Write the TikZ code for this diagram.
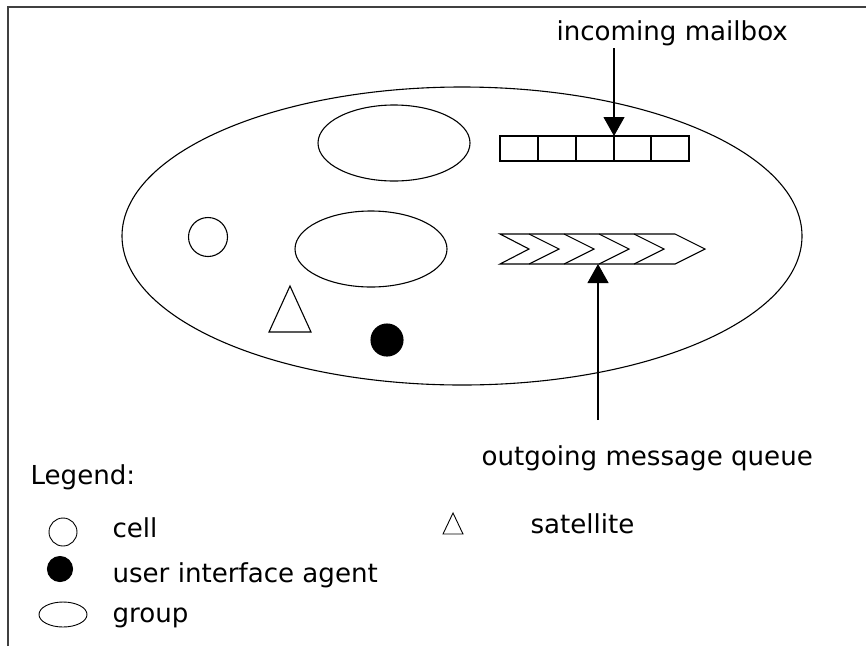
\documentclass[tikz,border=0pt]{standalone}
\usepackage{fontspec}
\setmainfont{DejaVu Sans}
\usetikzlibrary{arrows.meta,shapes.geometric}
\begin{document}
\begin{tikzpicture}[x=1pt,y=-1pt,line width=1.1pt,
  lbl/.style={font=\fontsize{26.1}{30}\selectfont, inner sep=0pt, anchor=base west},
  shp/.style={draw, line width=1.1pt, inner sep=0pt},
  arr/.style={-{Triangle[width=21pt,length=19pt]}, line width=1.1pt}]
\useasboundingbox (0,0) rectangle (866,646);
% frame
\draw[line width=1.5pt, black!75] (8,646) -- (8,7) -- (866,7);
% group
\node[shp, ellipse, minimum width=680pt, minimum height=298pt] (grp) at (462,236) {};
\node[shp, ellipse, minimum width=152pt, minimum height=76pt] (g1) at (394,143) {};
\node[shp, ellipse, minimum width=152pt, minimum height=76pt] (g2) at (371,249) {};
\node[shp, circle, minimum size=39pt] (cell) at (208,237) {};
\node[shp, circle, fill=black, minimum size=32pt] (ua) at (387,340) {};
\draw (269,332) -- (290,286) -- (311,332) -- cycle;
% mailbox
\node[shp, rectangle, minimum width=189pt, minimum height=25pt] (mbox) at (594.5,148.5) {};
\foreach \x in {538,576,614,651} \draw (\x,136) -- (\x,161);
\coordinate (mbin) at (614,136);
% queue
\draw (500,234) -- (675,234) -- (705,249) -- (675,264) -- (500,264) -- (529,249) -- cycle;
\foreach \s/\t in {529/559,564/594,599/629,634/664}
  \draw (\s,234) -- (\t,249) -- (\s,264);
\coordinate (qin) at (598,264);
\coordinate (qtail) at (598,420);
% labels
\node[lbl] (inlab) at (556,40) {incoming mailbox};
\node[lbl] (outlab) at (481,465) {outgoing message queue};
\coordinate (intail) at (614,48);
\draw[arr] (intail) -- (mbin);
\draw[arr] (qtail) -- (qin);
% legend
\node[lbl] (leg) at (30,484) {Legend:};
\node[shp, circle, minimum size=28pt, line width=0.9pt] (lcell) at (63,532) {};
\node[lbl] (tcell) at (112,537) {cell};
\node[shp, circle, fill=black, minimum size=25pt] (lua) at (60,569) {};
\node[lbl] (tua) at (112,582) {user interface agent};
\node[shp, ellipse, minimum width=48pt, minimum height=25pt, line width=0.9pt] (lgrp) at (63,614.5) {};
\node[lbl] (tgrp) at (112,622) {group};
\draw[line width=0.9pt] (443,534) -- (453,513) -- (463,534) -- cycle;
\node[lbl] (tsat) at (530,533) {satellite};
\end{tikzpicture}
\end{document}
